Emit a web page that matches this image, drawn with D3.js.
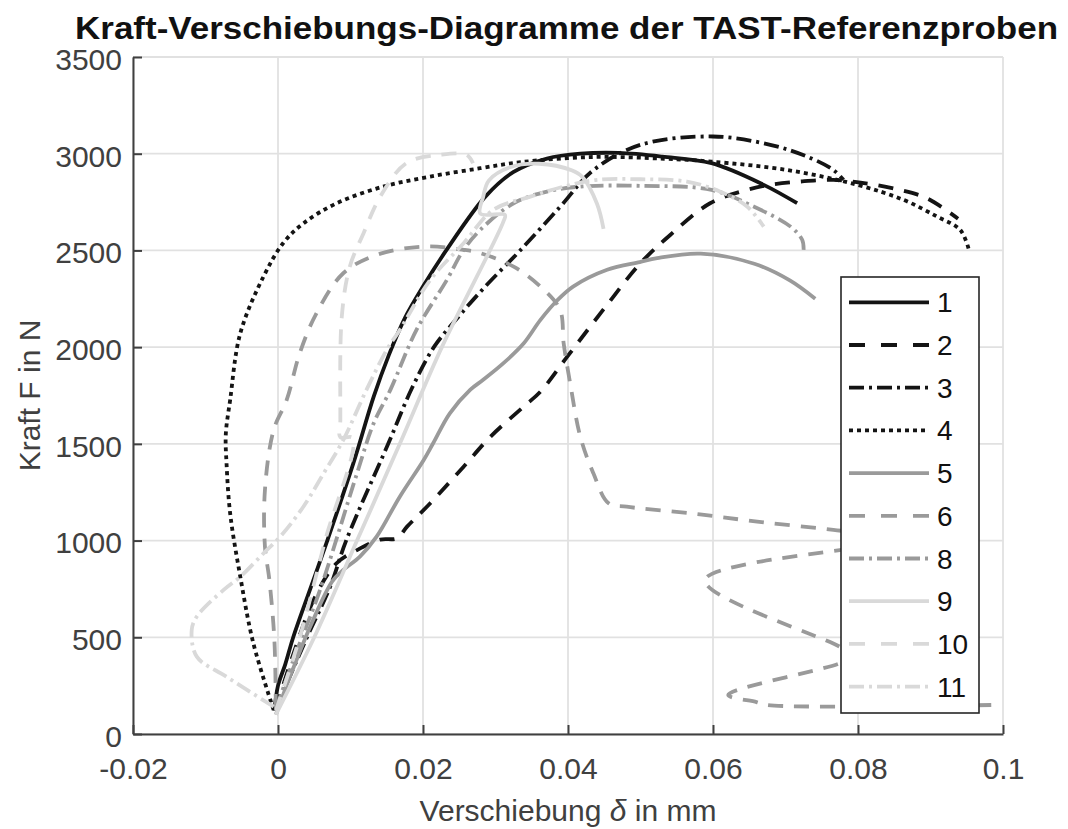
<!DOCTYPE html>
<html>
<head>
<meta charset="utf-8">
<script src="https://cdn.jsdelivr.net/npm/d3@7"></script>
<style>
  html, body { margin: 0; padding: 0; background: #fff; }
  svg { display: block; }
  text { font-family: "Liberation Sans", Arial, Helvetica, sans-serif; }
</style>
</head>
<body>
<svg id="chart" width="1068" height="829"></svg>
<script>
// ---------- data ----------
const titleText = "Kraft-Verschiebungs-Diagramme der TAST-Referenzproben";
const xLabelMain = "Verschiebung ";
const xLabelSym = "δ";
const xLabelTail = " in mm";
const yLabelText = "Kraft F in N";

const xTicks = [-0.02, 0, 0.02, 0.04, 0.06, 0.08, 0.1];
const xTickLabels = ["-0.02", "0", "0.02", "0.04", "0.06", "0.08", "0.1"];
const yTicks = [0, 500, 1000, 1500, 2000, 2500, 3000, 3500];
const yTickLabels = ["0", "500", "1000", "1500", "2000", "2500", "3000", "3500"];

const seriesNames = ["1", "2", "3", "4", "5", "6", "8", "9", "10", "11"];

const s1 = [[-0.0005,120],[0,250],[0.001,360],[0.0021,500],[0.0044,745],[0.0068,1000],[0.0104,1400],[0.0132,1744],[0.0153,1960],[0.0175,2150],[0.02,2313],[0.0232,2500],[0.0286,2778],[0.0325,2906],[0.0371,2975],[0.0417,3000],[0.047,3004],[0.053,2985],[0.0598,2951],[0.067,2839],[0.0716,2744]];
const s2 = [[-0.0003,130],[0.002,400],[0.005,700],[0.008,880],[0.0109,951],[0.0141,1005],[0.0164,1012],[0.0178,1072],[0.021,1193],[0.0256,1382],[0.0293,1537],[0.0339,1693],[0.0362,1770],[0.0399,1951],[0.045,2200],[0.05,2434],[0.0541,2580],[0.0596,2744],[0.0647,2813],[0.0679,2839],[0.072,2856],[0.0766,2865],[0.0808,2848],[0.0854,2816],[0.0895,2770],[0.0938,2664]];
const s3 = [[-0.0003,130],[0.004,500],[0.0072,762],[0.0094,1000],[0.0152,1500],[0.0185,1790],[0.0215,2000],[0.0245,2140],[0.0285,2310],[0.0334,2500],[0.0389,2725],[0.0435,2915],[0.05,3046],[0.06,3089],[0.0679,3046],[0.073,2985],[0.0766,2916],[0.078,2865]];
const s4 = [[-0.0006,124],[-0.0034,469],[-0.0052,813],[-0.0066,1141],[-0.0071,1400],[-0.0072,1550],[-0.0066,1727],[-0.0052,2072],[-0.002,2365],[0.0007,2537],[0.0035,2640],[0.0081,2744],[0.0145,2830],[0.021,2882],[0.0279,2925],[0.0336,2957],[0.0435,2983],[0.0533,2974],[0.0598,2959],[0.0702,2916],[0.0799,2839],[0.0863,2761],[0.0909,2675],[0.0941,2606],[0.0953,2503]];
const s5 = [[-0.0003,100],[0.002,330],[0.0045,560],[0.0075,790],[0.009,848],[0.0113,917],[0.0136,1020],[0.0168,1227],[0.0201,1417],[0.0214,1503],[0.0237,1658],[0.0265,1779],[0.0283,1831],[0.0311,1917],[0.0339,2020],[0.0362,2141],[0.0385,2241],[0.0407,2313],[0.0454,2400],[0.0499,2440],[0.0523,2460],[0.0583,2483],[0.0657,2431],[0.0706,2345],[0.0741,2250]];
const s6 = [[-0.0003,130],[-0.0005,486],[-0.0012,800],[-0.0018,969],[-0.0018,1262],[-0.0006,1572],[0.0012,1727],[0.003,1969],[0.0053,2175],[0.009,2382],[0.0136,2477],[0.0201,2520],[0.0256,2503],[0.0279,2486],[0.0325,2416],[0.0362,2313],[0.0389,2193],[0.0394,2020],[0.0403,1813],[0.0417,1537],[0.0435,1348],[0.0456,1193],[0.0481,1175],[0.0569,1141],[0.0661,1098],[0.0766,1055],[0.086,1010],[0.0589,796],[0.0775,451],[0.0795,405],[0.0775,366],[0.0621,202],[0.066,165],[0.0674,150],[0.0985,150]];
const s8 = [[-0.0003,130],[0.0025,420],[0.0058,745],[0.0109,1348],[0.0132,1607],[0.0155,1779],[0.0191,2089],[0.0233,2348],[0.0256,2503],[0.0279,2606],[0.0325,2744],[0.0371,2804],[0.0417,2830],[0.05,2834],[0.0598,2813],[0.0656,2727],[0.0707,2623],[0.0723,2555],[0.0725,2503]];
const s9 = [[-0.0003,100],[0.005,500],[0.0109,1000],[0.0168,1500],[0.0226,2000],[0.0311,2650],[0.0313,2684],[0.0279,2690],[0.0283,2778],[0.0291,2862],[0.0321,2931],[0.036,2948],[0.0405,2914],[0.042,2879],[0.044,2741],[0.0449,2612]];
const s10 = [[-0.0003,120],[0.003,500],[0.0065,1000],[0.0103,1530],[0.0086,1535],[0.0086,1624],[0.0088,2158],[0.0099,2416],[0.0118,2589],[0.0141,2778],[0.0177,2951],[0.0224,2994],[0.026,2994],[0.0269,2951]];
const s11 = [[-0.0006,141],[-0.0071,296],[-0.0112,400],[-0.0119,538],[-0.0112,607],[-0.0075,745],[-0.0052,813],[-0.002,934],[0.0003,1020],[0.0035,1175],[0.0063,1348],[0.009,1520],[0.0122,1779],[0.015,1986],[0.0168,2089],[0.021,2348],[0.0256,2537],[0.0297,2710],[0.0348,2778],[0.0394,2830],[0.044,2865],[0.05,2868],[0.0564,2856],[0.061,2804],[0.0647,2727],[0.067,2623]];

const seriesData = [s1, s2, s3, s4, s5, s6, s8, s9, s10, s11];

// ---------- styles ----------
const BLACK = "#141414", GREY = "#9a9a9a", LIGHT = "#d9d9d9";
const DASH = "15,11", DASHDOT = "15,5,3,5", DOT = "4,4";
const styles = [
  {c: BLACK, d: null}, {c: BLACK, d: DASH}, {c: BLACK, d: DASHDOT}, {c: BLACK, d: DOT},
  {c: GREY, d: null}, {c: GREY, d: DASH}, {c: GREY, d: DASHDOT},
  {c: LIGHT, d: null}, {c: LIGHT, d: DASH}, {c: LIGHT, d: DASHDOT}
];
const legendDash = [null, "16,16", "15,5,3,5", "4,4", null, "16,16", "15,5,3,5", null, "16,16", "15,5,3,5"];

// ---------- layout ----------
const L = 133, R = 1003, T = 57, B = 734;
const svg = d3.select("#chart");
const x = d3.scaleLinear().domain([-0.02, 0.1]).range([L, R]);
const y = d3.scaleLinear().domain([0, 3500]).range([B, T]);
const AX = "#404040";

// grid
const grid = svg.append("g");
grid.selectAll("line.gx").data(xTicks).join("line")
  .attr("x1", d => x(d)).attr("x2", d => x(d)).attr("y1", T).attr("y2", B)
  .attr("stroke", "#e1e1e1").attr("stroke-width", 1.8);
grid.selectAll("line.gy").data(yTicks).join("line")
  .attr("x1", L).attr("x2", R).attr("y1", d => y(d)).attr("y2", d => y(d))
  .attr("stroke", "#e1e1e1").attr("stroke-width", 1.8);

// series
svg.append("clipPath").attr("id", "clip").append("rect")
  .attr("x", L).attr("y", T - 5).attr("width", R - L + 5).attr("height", B - T + 5);
const line = d3.line().x(d => x(d[0])).y(d => y(d[1])).curve(d3.curveCatmullRom.alpha(0.5));
const plot = svg.append("g").attr("clip-path", "url(#clip)");
seriesData.forEach((s, i) => {
  plot.append("path").datum(s)
    .attr("d", line)
    .attr("fill", "none")
    .attr("stroke", styles[i].c)
    .attr("stroke-width", 3.8)
    .attr("stroke-linejoin", "round")
    .attr("stroke-dasharray", styles[i].d);
});

// axes
const xAxis = d3.axisBottom(x).tickValues(xTicks).tickFormat((d, i) => xTickLabels[i])
  .tickSizeInner(-9).tickSizeOuter(0).tickPadding(24);
const yAxis = d3.axisLeft(y).tickValues(yTicks).tickFormat((d, i) => yTickLabels[i])
  .tickSizeInner(-9).tickSizeOuter(0).tickPadding(11);
const gx = svg.append("g").attr("transform", `translate(0,${B})`).call(xAxis);
const gy = svg.append("g").attr("transform", `translate(${L},0)`).call(yAxis);
[gx, gy].forEach(g => {
  g.select(".domain").attr("stroke", AX).attr("stroke-width", 2);
  g.selectAll(".tick line").attr("stroke", AX).attr("stroke-width", 2);
  g.selectAll(".tick text").attr("fill", AX).attr("font-size", 30)
    .attr("font-family", "'Liberation Sans', Arial, sans-serif");
});
gy.selectAll(".tick text").attr("dy", "0.41em");

// title
svg.append("text")
  .attr("x", 566.5).attr("y", 38.5).attr("text-anchor", "middle")
  .attr("font-size", 31).attr("font-weight", "bold").attr("fill", "#111")
  .attr("textLength", 983).attr("lengthAdjust", "spacingAndGlyphs")
  .text(titleText);

// axis labels
const xl = svg.append("text").attr("x", 568).attr("y", 821).attr("text-anchor", "middle")
  .attr("font-size", 30).attr("fill", AX);
xl.append("tspan").text(xLabelMain);
xl.append("tspan").attr("font-style", "italic").text(xLabelSym);
xl.append("tspan").text(xLabelTail);

svg.append("text")
  .attr("transform", `translate(40,${(T + B) / 2}) rotate(-90)`)
  .attr("text-anchor", "middle").attr("font-size", 30).attr("fill", AX)
  .text(yLabelText);

// legend
const lg = svg.append("g");
lg.append("rect").attr("x", 841).attr("y", 277).attr("width", 138).attr("height", 436)
  .attr("fill", "#fff").attr("stroke", "#262626").attr("stroke-width", 1.6);
seriesNames.forEach((n, i) => {
  const yy = 302.3 + i * 42.7;
  lg.append("line").attr("x1", 849).attr("x2", 929).attr("y1", yy).attr("y2", yy)
    .attr("stroke", styles[i].c).attr("stroke-width", 3.8)
    .attr("stroke-dasharray", legendDash[i]);
  lg.append("text").attr("x", 937).attr("y", yy + 10).attr("font-size", 28)
    .attr("fill", "#111").text(n);
});
</script>
</body>
</html>
